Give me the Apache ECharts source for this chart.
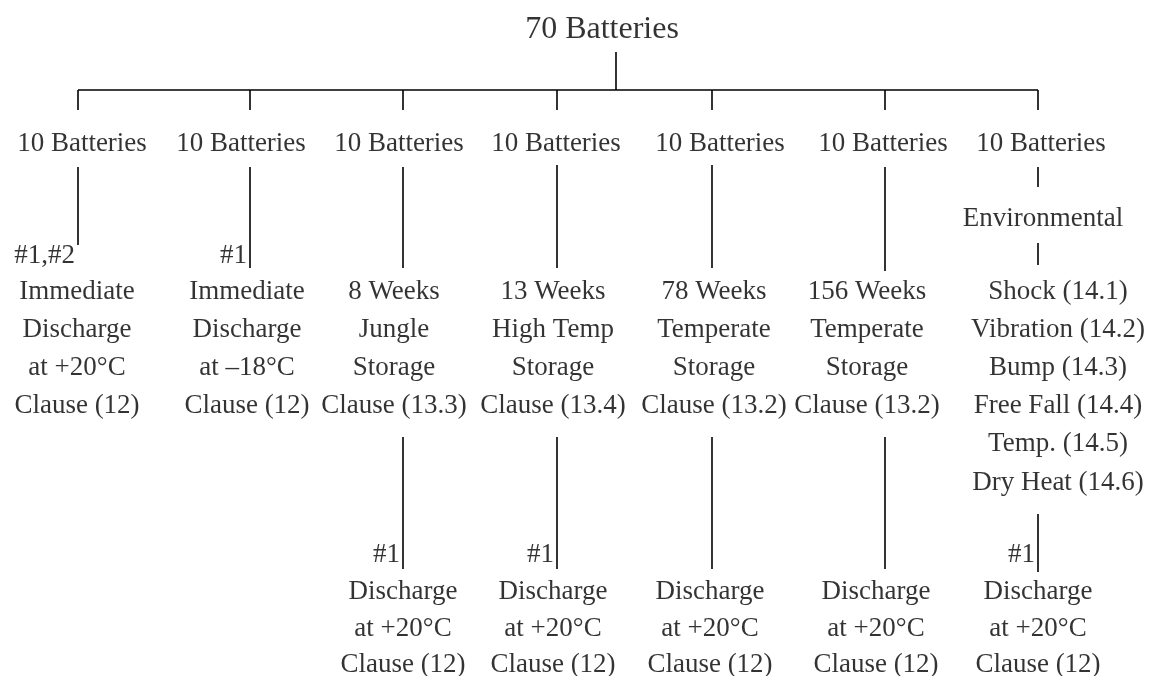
<!DOCTYPE html>
<html>
<head>
<meta charset="utf-8">
<script src="https://cdn.jsdelivr.net/npm/echarts@6/dist/echarts.min.js"></script>
<style>
  html, body { margin: 0; padding: 0; background: #fff; }
  #main { width: 1153px; height: 676px; }
</style>
</head>
<body>
<div id="main"></div>
<script>
// tree content
var rootLabel = '70 Batteries';
var groupLabels = ['10 Batteries', '10 Batteries', '10 Batteries', '10 Batteries', '10 Batteries', '10 Batteries', '10 Batteries'];
var upperTags = ['#1,#2', '#1', '', '', '', '', ''];
var lowerTags = ['', '', '#1', '#1', '', '', '#1'];
var envLabel = 'Environmental';
var testLabels = [
  ['Immediate', 'Discharge', 'at +20°C', 'Clause (12)'],
  ['Immediate', 'Discharge', 'at –18°C', 'Clause (12)'],
  ['8 Weeks', 'Jungle', 'Storage', 'Clause (13.3)'],
  ['13 Weeks', 'High Temp', 'Storage', 'Clause (13.4)'],
  ['78 Weeks', 'Temperate', 'Storage', 'Clause (13.2)'],
  ['156 Weeks', 'Temperate', 'Storage', 'Clause (13.2)'],
  ['Shock (14.1)', 'Vibration (14.2)', 'Bump (14.3)', 'Free Fall (14.4)', 'Temp. (14.5)', 'Dry Heat (14.6)']
];
var followLabels = [
  [],
  [],
  ['Discharge', 'at +20°C', 'Clause (12)'],
  ['Discharge', 'at +20°C', 'Clause (12)'],
  ['Discharge', 'at +20°C', 'Clause (12)'],
  ['Discharge', 'at +20°C', 'Clause (12)'],
  ['Discharge', 'at +20°C', 'Clause (12)']
];

// layout (x = column, y = row level), plotted on hidden value axes
var colX = [78, 250, 403, 557, 712, 885, 1038];
var groupX = [82, 241, 399, 556, 720, 883, 1041];
var testX = [77, 247, 394, 553, 714, 867, 1058];
var followX = [0, 0, 403, 553, 710, 876, 1038];
var rootX = 602, rootLineX = 616;
var rowRoot = 30, rowBar = 90, rowTick = 110, rowGroup = 144, rowEnv = 219;
var rowTag1 = 256, rowTag2 = 555;
var testTop = 292, testStep = 38.1;
var followTop = 592, followStep = 36.5;
var dropTop = [167, 167, 167, 165, 165, 167, 167];
var dropBottom = [245, 268, 268, 268, 268, 271, 187];
var lowTop = [0, 0, 437, 437, 437, 437, 514];
var lowBottom = [0, 0, 569, 569, 569, 569, 572];

var segs = [];
segs.push([[rootLineX, 52], [rootLineX, rowBar]]);
segs.push([[colX[0], rowBar], [colX[6], rowBar]]);
colX.forEach(function (x, i) {
  segs.push([[x, rowBar], [x, rowTick]]);
  segs.push([[x, dropTop[i]], [x, dropBottom[i]]]);
  if (lowTop[i]) segs.push([[x, lowTop[i]], [x, lowBottom[i]]]);
});
segs.push([[colX[6], 243], [colX[6], 265]]);

var texts = [{ name: rootLabel, value: [rootX, rowRoot], label: { fontSize: 32 } }];
var tags = [];
groupLabels.forEach(function (t, i) {
  texts.push({ name: t, value: [groupX[i], rowGroup] });
  testLabels[i].forEach(function (s, k) {
    texts.push({ name: s, value: [testX[i], testTop + k * testStep] });
  });
  followLabels[i].forEach(function (s, k) {
    texts.push({ name: s, value: [followX[i], followTop + k * followStep] });
  });
  if (upperTags[i]) tags.push({ name: upperTags[i], value: [colX[i], rowTag1] });
  if (lowerTags[i]) tags.push({ name: lowerTags[i], value: [colX[i], rowTag2] });
});
texts.push({ name: envLabel, value: [1043, rowEnv] });

var myChart = echarts.init(document.getElementById('main'));

var option = {
  backgroundColor: '#fff',
  animation: false,
  grid: { left: 0, right: 0, top: 0, bottom: 0 },
  xAxis: { type: 'value', min: 0, max: 1153, show: false },
  yAxis: { type: 'value', min: 0, max: 676, inverse: true, show: false },
  series: [
    {
      type: 'lines',
      coordinateSystem: 'cartesian2d',
      silent: true,
      lineStyle: { color: '#000', width: 1.6, opacity: 1 },
      data: segs.map(function (c) { return { coords: c }; })
    },
    {
      type: 'scatter',
      silent: true,
      symbolSize: 0,
      itemStyle: { color: 'rgba(0,0,0,0)' },
      label: {
        show: true, position: 'inside', formatter: '{b}',
        color: '#000', fontSize: 27, fontFamily: 'Liberation Serif'
      },
      data: texts
    },
    {
      type: 'scatter',
      silent: true,
      symbolSize: 0,
      itemStyle: { color: 'rgba(0,0,0,0)' },
      label: {
        show: true, position: 'left', distance: 3, formatter: '{b}',
        color: '#000', fontSize: 27, fontFamily: 'Liberation Serif'
      },
      data: tags
    }
  ]
};

myChart.setOption(option);
</script>
</body>
</html>
